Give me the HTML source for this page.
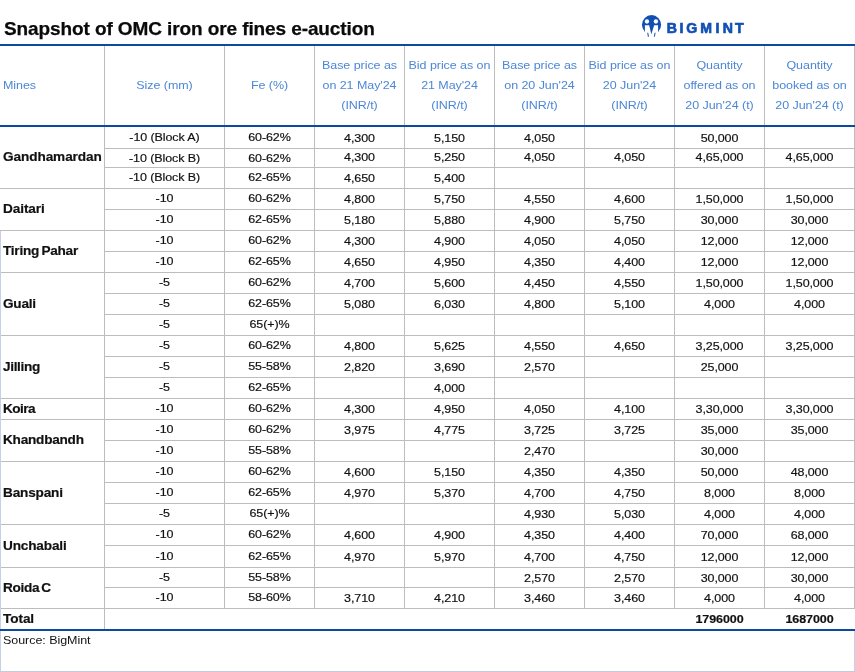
<!DOCTYPE html>
<html><head><meta charset="utf-8"><title>Snapshot of OMC iron ore fines e-auction</title>
<style>
html,body{margin:0;padding:0;background:#fff;}
body{width:855px;height:672px;position:relative;overflow:hidden;font-family:"Liberation Sans",sans-serif;color:#111;}
.a{position:absolute;}
.h{position:absolute;height:1px;background:#bdbdbd;}
.v{position:absolute;width:1px;background:#bdbdbd;}
.b{position:absolute;height:2px;left:0;width:855px;background:#0b4a9e;z-index:2;}
.t{position:absolute;white-space:nowrap;text-align:center;font-size:12.5px;line-height:16px;letter-spacing:-0.1px;transform:scaleY(0.91);transform-origin:50% 12.33px;-webkit-text-stroke:0.2px #111;}
.m{position:absolute;white-space:nowrap;font-weight:bold;font-size:13.6px;line-height:16px;left:3px;letter-spacing:-0.08px;transform:scaleY(0.95);transform-origin:0 12.71px;-webkit-text-stroke:0.2px #111;}
.hd{position:absolute;white-space:nowrap;text-align:center;font-size:12.5px;line-height:20px;color:#4c87d6;letter-spacing:-0.06px;transform:scaleY(0.91);transform-origin:50% 14.33px;}
</style></head><body><div id="w" style="position:absolute;left:0;top:0;width:855px;height:672px;will-change:transform;opacity:0.999">

<div class="a" id="title" style="left:4px;top:17px;font-size:19px;line-height:24px;font-weight:bold;white-space:nowrap;color:#0a0a0a;letter-spacing:-0.1px;-webkit-text-stroke:0.25px #0a0a0a;">Snapshot of OMC iron ore fines e-auction</div>
<svg class="a" style="left:638px;top:12px" width="120" height="28" viewBox="0 0 120 28">
<g transform="scale(0.0416667)">
<ellipse cx="325" cy="308" rx="230" ry="234" fill="#1150b3"/>
<circle cx="215" cy="228" r="52" fill="#fff"/><circle cx="430" cy="228" r="52" fill="#fff"/>
<path d="M165 320 L268 320 L320 532 L388 320 L482 320 L482 640 L165 640 Z" fill="#fff"/>
<path d="M222 498 L246 498 L262 596 L236 596 Z" fill="#1150b3"/>
<path d="M398 498 L422 498 L404 596 L380 596 Z" fill="#1150b3"/>
</g>
<g transform="scale(0.93,1)" font-family="Liberation Sans, sans-serif" font-weight="bold" font-size="15.2" fill="#1150b3" stroke="#1150b3" stroke-width="0.7" stroke-linejoin="miter" text-anchor="middle">
<text x="36.29" y="21.4">B</text><text x="46.67" y="21.4">I</text><text x="57.69" y="21.4">G</text><text x="73.33" y="21.4">M</text><text x="85.54" y="21.4">I</text><text x="96.51" y="21.4">N</text><text x="109.03" y="21.4">T</text>
</g>
</svg>
<div class="b" style="top:44px"></div><div class="b" style="top:125px"></div><div class="b" style="top:629px"></div>
<div class="v" style="left:104px;top:46px;height:583px"></div>
<div class="v" style="left:224px;top:46px;height:563px"></div>
<div class="v" style="left:314px;top:46px;height:563px"></div>
<div class="v" style="left:404px;top:46px;height:563px"></div>
<div class="v" style="left:494px;top:46px;height:563px"></div>
<div class="v" style="left:584px;top:46px;height:563px"></div>
<div class="v" style="left:674px;top:46px;height:563px"></div>
<div class="v" style="left:764px;top:46px;height:563px"></div>
<div class="v" style="left:854px;top:46px;height:563px"></div>
<div class="v" style="left:854px;top:631px;height:41px;background:#c9cfe6"></div>
<div class="h" style="left:104px;width:751px;top:148px"></div>
<div class="h" style="left:104px;width:751px;top:167px"></div>
<div class="h" style="left:0;width:855px;top:188px"></div>
<div class="h" style="left:104px;width:751px;top:209px"></div>
<div class="h" style="left:0;width:855px;top:230px"></div>
<div class="h" style="left:104px;width:751px;top:251px"></div>
<div class="h" style="left:0;width:855px;top:272px"></div>
<div class="h" style="left:104px;width:751px;top:293px"></div>
<div class="h" style="left:104px;width:751px;top:314px"></div>
<div class="h" style="left:0;width:855px;top:335px"></div>
<div class="h" style="left:104px;width:751px;top:356px"></div>
<div class="h" style="left:104px;width:751px;top:377px"></div>
<div class="h" style="left:0;width:855px;top:398px"></div>
<div class="h" style="left:0;width:855px;top:419px"></div>
<div class="h" style="left:104px;width:751px;top:440px"></div>
<div class="h" style="left:0;width:855px;top:461px"></div>
<div class="h" style="left:104px;width:751px;top:482px"></div>
<div class="h" style="left:104px;width:751px;top:503px"></div>
<div class="h" style="left:0;width:855px;top:524px"></div>
<div class="h" style="left:104px;width:751px;top:545px"></div>
<div class="h" style="left:0;width:855px;top:567px"></div>
<div class="h" style="left:104px;width:751px;top:587px"></div>
<div class="h" style="left:0;width:855px;top:608px"></div>
<div class="h" style="left:0;width:855px;top:671px;background:#c3c9de"></div>
<div class="v" style="left:0;top:231px;height:398px;background:#c9cfe6"></div>
<div class="v" style="left:0;top:631px;height:41px;background:#c9cfe6"></div>
<div class="hd" style="left:3px;top:75px;text-align:left;transform-origin:0 14.33px">Mines</div>
<div class="hd" style="left:104.5px;width:120.0px;top:75px">Size (mm)</div>
<div class="hd" style="left:224.5px;width:90.0px;top:75px">Fe (%)</div>
<div class="hd" style="left:314.5px;width:90.0px;top:55px">Base price as</div>
<div class="hd" style="left:314.5px;width:90.0px;top:75px">on 21 May'24</div>
<div class="hd" style="left:314.5px;width:90.0px;top:95px">(INR/t)</div>
<div class="hd" style="left:404.5px;width:90.0px;top:55px">Bid price as on</div>
<div class="hd" style="left:404.5px;width:90.0px;top:75px">21 May'24</div>
<div class="hd" style="left:404.5px;width:90.0px;top:95px">(INR/t)</div>
<div class="hd" style="left:494.5px;width:90.0px;top:55px">Base price as</div>
<div class="hd" style="left:494.5px;width:90.0px;top:75px">on 20 Jun'24</div>
<div class="hd" style="left:494.5px;width:90.0px;top:95px">(INR/t)</div>
<div class="hd" style="left:584.5px;width:90.0px;top:55px">Bid price as on</div>
<div class="hd" style="left:584.5px;width:90.0px;top:75px">20 Jun'24</div>
<div class="hd" style="left:584.5px;width:90.0px;top:95px">(INR/t)</div>
<div class="hd" style="left:674.5px;width:90.0px;top:55px">Quantity</div>
<div class="hd" style="left:674.5px;width:90.0px;top:75px">offered as on</div>
<div class="hd" style="left:674.5px;width:90.0px;top:95px">20 Jun'24 (t)</div>
<div class="hd" style="left:764.5px;width:90.0px;top:55px">Quantity</div>
<div class="hd" style="left:764.5px;width:90.0px;top:75px">booked as on</div>
<div class="hd" style="left:764.5px;width:90.0px;top:95px">20 Jun'24 (t)</div>
<div class="t" style="left:104.5px;width:120.0px;top:129px">-10 (Block A)</div>
<div class="t" style="left:224.5px;width:90.0px;top:129px">60-62%</div>
<div class="t" style="left:314.5px;width:90.0px;top:130px">4,300</div>
<div class="t" style="left:404.5px;width:90.0px;top:130px">5,150</div>
<div class="t" style="left:494.5px;width:90.0px;top:130px">4,050</div>
<div class="t" style="left:674.5px;width:90.0px;top:130px">50,000</div>
<div class="t" style="left:104.5px;width:120.0px;top:150px">-10 (Block B)</div>
<div class="t" style="left:224.5px;width:90.0px;top:150px">60-62%</div>
<div class="t" style="left:314.5px;width:90.0px;top:149px">4,300</div>
<div class="t" style="left:404.5px;width:90.0px;top:149px">5,250</div>
<div class="t" style="left:494.5px;width:90.0px;top:149px">4,050</div>
<div class="t" style="left:584.5px;width:90.0px;top:149px">4,050</div>
<div class="t" style="left:674.5px;width:90.0px;top:149px">4,65,000</div>
<div class="t" style="left:764.5px;width:90.0px;top:149px">4,65,000</div>
<div class="t" style="left:104.5px;width:120.0px;top:169px">-10 (Block B)</div>
<div class="t" style="left:224.5px;width:90.0px;top:169px">62-65%</div>
<div class="t" style="left:314.5px;width:90.0px;top:170px">4,650</div>
<div class="t" style="left:404.5px;width:90.0px;top:170px">5,400</div>
<div class="t" style="left:104.5px;width:120.0px;top:190px">-10</div>
<div class="t" style="left:224.5px;width:90.0px;top:190px">60-62%</div>
<div class="t" style="left:314.5px;width:90.0px;top:191px">4,800</div>
<div class="t" style="left:404.5px;width:90.0px;top:191px">5,750</div>
<div class="t" style="left:494.5px;width:90.0px;top:191px">4,550</div>
<div class="t" style="left:584.5px;width:90.0px;top:191px">4,600</div>
<div class="t" style="left:674.5px;width:90.0px;top:191px">1,50,000</div>
<div class="t" style="left:764.5px;width:90.0px;top:191px">1,50,000</div>
<div class="t" style="left:104.5px;width:120.0px;top:211px">-10</div>
<div class="t" style="left:224.5px;width:90.0px;top:211px">62-65%</div>
<div class="t" style="left:314.5px;width:90.0px;top:212px">5,180</div>
<div class="t" style="left:404.5px;width:90.0px;top:212px">5,880</div>
<div class="t" style="left:494.5px;width:90.0px;top:212px">4,900</div>
<div class="t" style="left:584.5px;width:90.0px;top:212px">5,750</div>
<div class="t" style="left:674.5px;width:90.0px;top:212px">30,000</div>
<div class="t" style="left:764.5px;width:90.0px;top:212px">30,000</div>
<div class="t" style="left:104.5px;width:120.0px;top:232px">-10</div>
<div class="t" style="left:224.5px;width:90.0px;top:232px">60-62%</div>
<div class="t" style="left:314.5px;width:90.0px;top:233px">4,300</div>
<div class="t" style="left:404.5px;width:90.0px;top:233px">4,900</div>
<div class="t" style="left:494.5px;width:90.0px;top:233px">4,050</div>
<div class="t" style="left:584.5px;width:90.0px;top:233px">4,050</div>
<div class="t" style="left:674.5px;width:90.0px;top:233px">12,000</div>
<div class="t" style="left:764.5px;width:90.0px;top:233px">12,000</div>
<div class="t" style="left:104.5px;width:120.0px;top:253px">-10</div>
<div class="t" style="left:224.5px;width:90.0px;top:253px">62-65%</div>
<div class="t" style="left:314.5px;width:90.0px;top:254px">4,650</div>
<div class="t" style="left:404.5px;width:90.0px;top:254px">4,950</div>
<div class="t" style="left:494.5px;width:90.0px;top:254px">4,350</div>
<div class="t" style="left:584.5px;width:90.0px;top:254px">4,400</div>
<div class="t" style="left:674.5px;width:90.0px;top:254px">12,000</div>
<div class="t" style="left:764.5px;width:90.0px;top:254px">12,000</div>
<div class="t" style="left:104.5px;width:120.0px;top:274px">-5</div>
<div class="t" style="left:224.5px;width:90.0px;top:274px">60-62%</div>
<div class="t" style="left:314.5px;width:90.0px;top:275px">4,700</div>
<div class="t" style="left:404.5px;width:90.0px;top:275px">5,600</div>
<div class="t" style="left:494.5px;width:90.0px;top:275px">4,450</div>
<div class="t" style="left:584.5px;width:90.0px;top:275px">4,550</div>
<div class="t" style="left:674.5px;width:90.0px;top:275px">1,50,000</div>
<div class="t" style="left:764.5px;width:90.0px;top:275px">1,50,000</div>
<div class="t" style="left:104.5px;width:120.0px;top:295px">-5</div>
<div class="t" style="left:224.5px;width:90.0px;top:295px">62-65%</div>
<div class="t" style="left:314.5px;width:90.0px;top:296px">5,080</div>
<div class="t" style="left:404.5px;width:90.0px;top:296px">6,030</div>
<div class="t" style="left:494.5px;width:90.0px;top:296px">4,800</div>
<div class="t" style="left:584.5px;width:90.0px;top:296px">5,100</div>
<div class="t" style="left:674.5px;width:90.0px;top:296px">4,000</div>
<div class="t" style="left:764.5px;width:90.0px;top:296px">4,000</div>
<div class="t" style="left:104.5px;width:120.0px;top:316px">-5</div>
<div class="t" style="left:224.5px;width:90.0px;top:316px">65(+)%</div>
<div class="t" style="left:104.5px;width:120.0px;top:337px">-5</div>
<div class="t" style="left:224.5px;width:90.0px;top:337px">60-62%</div>
<div class="t" style="left:314.5px;width:90.0px;top:338px">4,800</div>
<div class="t" style="left:404.5px;width:90.0px;top:338px">5,625</div>
<div class="t" style="left:494.5px;width:90.0px;top:338px">4,550</div>
<div class="t" style="left:584.5px;width:90.0px;top:338px">4,650</div>
<div class="t" style="left:674.5px;width:90.0px;top:338px">3,25,000</div>
<div class="t" style="left:764.5px;width:90.0px;top:338px">3,25,000</div>
<div class="t" style="left:104.5px;width:120.0px;top:358px">-5</div>
<div class="t" style="left:224.5px;width:90.0px;top:358px">55-58%</div>
<div class="t" style="left:314.5px;width:90.0px;top:359px">2,820</div>
<div class="t" style="left:404.5px;width:90.0px;top:359px">3,690</div>
<div class="t" style="left:494.5px;width:90.0px;top:359px">2,570</div>
<div class="t" style="left:674.5px;width:90.0px;top:359px">25,000</div>
<div class="t" style="left:104.5px;width:120.0px;top:379px">-5</div>
<div class="t" style="left:224.5px;width:90.0px;top:379px">62-65%</div>
<div class="t" style="left:404.5px;width:90.0px;top:380px">4,000</div>
<div class="t" style="left:104.5px;width:120.0px;top:400px">-10</div>
<div class="t" style="left:224.5px;width:90.0px;top:400px">60-62%</div>
<div class="t" style="left:314.5px;width:90.0px;top:401px">4,300</div>
<div class="t" style="left:404.5px;width:90.0px;top:401px">4,950</div>
<div class="t" style="left:494.5px;width:90.0px;top:401px">4,050</div>
<div class="t" style="left:584.5px;width:90.0px;top:401px">4,100</div>
<div class="t" style="left:674.5px;width:90.0px;top:401px">3,30,000</div>
<div class="t" style="left:764.5px;width:90.0px;top:401px">3,30,000</div>
<div class="t" style="left:104.5px;width:120.0px;top:421px">-10</div>
<div class="t" style="left:224.5px;width:90.0px;top:421px">60-62%</div>
<div class="t" style="left:314.5px;width:90.0px;top:422px">3,975</div>
<div class="t" style="left:404.5px;width:90.0px;top:422px">4,775</div>
<div class="t" style="left:494.5px;width:90.0px;top:422px">3,725</div>
<div class="t" style="left:584.5px;width:90.0px;top:422px">3,725</div>
<div class="t" style="left:674.5px;width:90.0px;top:422px">35,000</div>
<div class="t" style="left:764.5px;width:90.0px;top:422px">35,000</div>
<div class="t" style="left:104.5px;width:120.0px;top:442px">-10</div>
<div class="t" style="left:224.5px;width:90.0px;top:442px">55-58%</div>
<div class="t" style="left:494.5px;width:90.0px;top:443px">2,470</div>
<div class="t" style="left:674.5px;width:90.0px;top:443px">30,000</div>
<div class="t" style="left:104.5px;width:120.0px;top:463px">-10</div>
<div class="t" style="left:224.5px;width:90.0px;top:463px">60-62%</div>
<div class="t" style="left:314.5px;width:90.0px;top:464px">4,600</div>
<div class="t" style="left:404.5px;width:90.0px;top:464px">5,150</div>
<div class="t" style="left:494.5px;width:90.0px;top:464px">4,350</div>
<div class="t" style="left:584.5px;width:90.0px;top:464px">4,350</div>
<div class="t" style="left:674.5px;width:90.0px;top:464px">50,000</div>
<div class="t" style="left:764.5px;width:90.0px;top:464px">48,000</div>
<div class="t" style="left:104.5px;width:120.0px;top:484px">-10</div>
<div class="t" style="left:224.5px;width:90.0px;top:484px">62-65%</div>
<div class="t" style="left:314.5px;width:90.0px;top:485px">4,970</div>
<div class="t" style="left:404.5px;width:90.0px;top:485px">5,370</div>
<div class="t" style="left:494.5px;width:90.0px;top:485px">4,700</div>
<div class="t" style="left:584.5px;width:90.0px;top:485px">4,750</div>
<div class="t" style="left:674.5px;width:90.0px;top:485px">8,000</div>
<div class="t" style="left:764.5px;width:90.0px;top:485px">8,000</div>
<div class="t" style="left:104.5px;width:120.0px;top:505px">-5</div>
<div class="t" style="left:224.5px;width:90.0px;top:505px">65(+)%</div>
<div class="t" style="left:494.5px;width:90.0px;top:506px">4,930</div>
<div class="t" style="left:584.5px;width:90.0px;top:506px">5,030</div>
<div class="t" style="left:674.5px;width:90.0px;top:506px">4,000</div>
<div class="t" style="left:764.5px;width:90.0px;top:506px">4,000</div>
<div class="t" style="left:104.5px;width:120.0px;top:526px">-10</div>
<div class="t" style="left:224.5px;width:90.0px;top:526px">60-62%</div>
<div class="t" style="left:314.5px;width:90.0px;top:527px">4,600</div>
<div class="t" style="left:404.5px;width:90.0px;top:527px">4,900</div>
<div class="t" style="left:494.5px;width:90.0px;top:527px">4,350</div>
<div class="t" style="left:584.5px;width:90.0px;top:527px">4,400</div>
<div class="t" style="left:674.5px;width:90.0px;top:527px">70,000</div>
<div class="t" style="left:764.5px;width:90.0px;top:527px">68,000</div>
<div class="t" style="left:104.5px;width:120.0px;top:548px">-10</div>
<div class="t" style="left:224.5px;width:90.0px;top:548px">62-65%</div>
<div class="t" style="left:314.5px;width:90.0px;top:549px">4,970</div>
<div class="t" style="left:404.5px;width:90.0px;top:549px">5,970</div>
<div class="t" style="left:494.5px;width:90.0px;top:549px">4,700</div>
<div class="t" style="left:584.5px;width:90.0px;top:549px">4,750</div>
<div class="t" style="left:674.5px;width:90.0px;top:549px">12,000</div>
<div class="t" style="left:764.5px;width:90.0px;top:549px">12,000</div>
<div class="t" style="left:104.5px;width:120.0px;top:569px">-5</div>
<div class="t" style="left:224.5px;width:90.0px;top:569px">55-58%</div>
<div class="t" style="left:494.5px;width:90.0px;top:570px">2,570</div>
<div class="t" style="left:584.5px;width:90.0px;top:570px">2,570</div>
<div class="t" style="left:674.5px;width:90.0px;top:570px">30,000</div>
<div class="t" style="left:764.5px;width:90.0px;top:570px">30,000</div>
<div class="t" style="left:104.5px;width:120.0px;top:589px">-10</div>
<div class="t" style="left:224.5px;width:90.0px;top:589px">58-60%</div>
<div class="t" style="left:314.5px;width:90.0px;top:590px">3,710</div>
<div class="t" style="left:404.5px;width:90.0px;top:590px">4,210</div>
<div class="t" style="left:494.5px;width:90.0px;top:590px">3,460</div>
<div class="t" style="left:584.5px;width:90.0px;top:590px">3,460</div>
<div class="t" style="left:674.5px;width:90.0px;top:590px">4,000</div>
<div class="t" style="left:764.5px;width:90.0px;top:590px">4,000</div>
<div class="t" style="left:674.5px;width:90.0px;top:611.2px;font-weight:bold">1796000</div>
<div class="t" style="left:764.5px;width:90.0px;top:611.2px;font-weight:bold">1687000</div>
<div class="m" style="top:149px;">Gandhamardan</div>
<div class="m" style="top:201px;">Daitari</div>
<div class="m" style="top:243px;word-spacing:-1.2px;letter-spacing:-0.24px">Tiring Pahar</div>
<div class="m" style="top:296px;letter-spacing:-0.24px">Guali</div>
<div class="m" style="top:359px;letter-spacing:-0.34px">Jilling</div>
<div class="m" style="top:401px;letter-spacing:-0.56px">Koira</div>
<div class="m" style="top:432px;letter-spacing:-0.23px">Khandbandh</div>
<div class="m" style="top:485px;letter-spacing:-0.18px">Banspani</div>
<div class="m" style="top:538px;letter-spacing:-0.16px">Unchabali</div>
<div class="m" style="top:580px;word-spacing:-1.4px;letter-spacing:-0.3px">Roida C</div>
<div class="m" style="top:611px;">Total</div>
<div class="a" id="src" style="left:3px;top:632px;font-size:12.5px;line-height:16px;white-space:nowrap;color:#111;letter-spacing:-0.05px;transform:scaleY(0.91);transform-origin:0 12.33px">Source: BigMint</div>
</div></body></html>
